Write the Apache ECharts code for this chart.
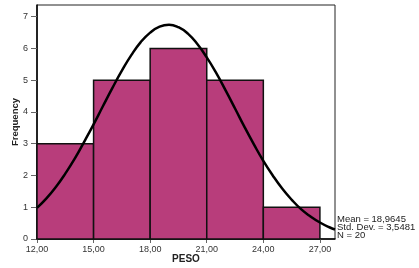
<!DOCTYPE html>
<html>
<head>
<meta charset="utf-8">
<script src="https://cdn.jsdelivr.net/npm/echarts@6/dist/echarts.min.js"></script>
<style>
  html, body { margin: 0; padding: 0; background: #fff; }
  #chart { width: 419px; height: 268px; }
</style>
</head>
<body>
<div id="chart"></div>
<script>
// histogram bins (lower, upper) and counts
const binStart = [12, 15, 18, 21, 24]
const binEnd = [15, 18, 21, 24, 27]
const counts = [3, 5, 6, 5, 1]

// normal curve
const curveX = [12, 12.5, 13, 13.5, 14, 14.5, 15, 15.5, 16, 16.5, 17, 17.5, 18, 18.5, 19, 19.5, 20, 20.5, 21, 21.5, 22, 22.5, 23, 23.5, 24, 24.5, 25, 25.5, 26, 26.5, 27, 27.5, 27.8]
const curveY = [0.98, 1.28, 1.64, 2.06, 2.53, 3.06, 3.61, 4.19, 4.76, 5.30, 5.79, 6.20, 6.50, 6.69, 6.75, 6.67, 6.47, 6.14, 5.72, 5.23, 4.68, 4.11, 3.53, 2.98, 2.46, 2.00, 1.59, 1.24, 0.94, 0.71, 0.52, 0.37, 0.30]

const xTicks = [12, 15, 18, 21, 24, 27]
const yTicks = [0, 1, 2, 3, 4, 5, 6, 7]
const statsText = ['Mean = 18,9645', 'Std. Dev. = 3,5481', 'N = 20']

const fmt = v => v.toFixed(2).replace('.', ',')

let myChart = echarts.init(document.getElementById('chart'), null, { renderer: 'canvas' })
myChart.setOption({
  animation: false,
  grid: {
    left: 37, top: 5, width: 298, height: 234,
    outerBoundsMode: 'none', containLabel: false,
    show: true, borderColor: '#222', borderWidth: 1, backgroundColor: '#fff'
  },
  xAxis: {
    type: 'value', min: 12, max: 27.8, interval: 3,
    name: 'PESO', nameLocation: 'middle', nameGap: 15, nameMoveOverlap: false,
    nameTextStyle: { fontFamily: 'Liberation Sans', fontWeight: 'bold', fontSize: 10, color: '#222' },
    axisLine: { lineStyle: { color: '#000', width: 1.5 } },
    axisTick: { customValues: xTicks, length: 4, lineStyle: { color: '#666' } },
    axisLabel: { customValues: xTicks, formatter: fmt, fontFamily: 'Liberation Sans', fontSize: 9, color: '#333', margin: 6 },
    splitLine: { show: false }
  },
  yAxis: {
    type: 'value', min: 0, max: 7.37, interval: 1,
    name: 'Frequency', nameLocation: 'middle', nameGap: 17, nameRotate: 90, nameMoveOverlap: false,
    nameTextStyle: { fontFamily: 'Liberation Sans', fontWeight: 'bold', fontSize: 9.5, color: '#222' },
    axisLine: { show: true, lineStyle: { color: '#000', width: 1.5 } },
    axisTick: { show: true, customValues: yTicks, length: 6, lineStyle: { color: '#666' } },
    axisLabel: { customValues: yTicks, fontFamily: 'Liberation Sans', fontSize: 9, color: '#333', margin: 9 },
    splitLine: { show: false }
  },
  graphic: [{
    type: 'text', left: 337, top: 214,
    style: { text: statsText.join('\n'), fontFamily: 'Liberation Sans', fontSize: 9.5, lineHeight: 8, fill: '#222' }
  }],
  series: [
    {
      type: 'custom',
      data: counts.map((c, i) => [binStart[i], binEnd[i], c]),
      renderItem: function(params, api) {
        const p0 = api.coord([api.value(0), 0])
        const p1 = api.coord([api.value(1), api.value(2)])
        return {
          type: 'rect',
          shape: { x: p0[0], y: p1[1], width: p1[0] - p0[0], height: p0[1] - p1[1] },
          style: { fill: '#b83d7b', stroke: '#111', lineWidth: 1.5 }
        }
      },
      z: 2
    },
    {
      type: 'line',
      data: curveX.map((x, i) => [x, curveY[i]]),
      smooth: true,
      showSymbol: false,
      lineStyle: { color: '#000', width: 2.5 },
      z: 3
    }
  ]
})
</script>
</body>
</html>
